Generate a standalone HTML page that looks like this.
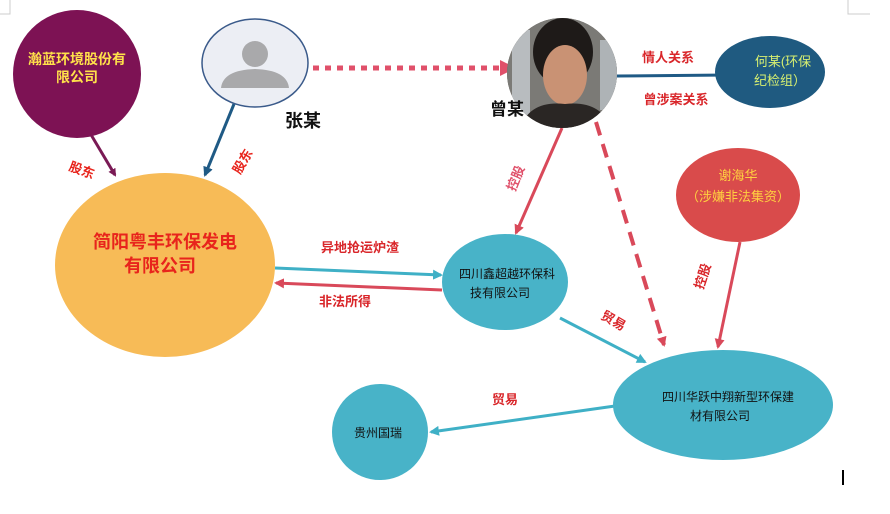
<!DOCTYPE html>
<html><head><meta charset="utf-8"><style>
body{margin:0;background:#fff}
svg{display:block;font-family:"Liberation Sans","Noto Sans CJK SC",sans-serif}
</style></head><body>
<svg width="890" height="514" viewBox="0 0 890 514">
<defs>
<marker id="mp" markerWidth="8" markerHeight="8" refX="6" refY="4" orient="auto" markerUnits="userSpaceOnUse"><path d="M0,0L8,4L0,8z" fill="#7a1a55"/></marker>
<marker id="mb" markerWidth="10" markerHeight="10" refX="8" refY="5" orient="auto" markerUnits="userSpaceOnUse"><path d="M0,0L10,5L0,10z" fill="#1f5a85"/></marker>
<marker id="mr" markerWidth="10" markerHeight="10" refX="8" refY="5" orient="auto" markerUnits="userSpaceOnUse"><path d="M0,0L10,5L0,10z" fill="#d9495a"/></marker>
<marker id="mr2" markerWidth="16" markerHeight="16" refX="12" refY="8" orient="auto" markerUnits="userSpaceOnUse"><path d="M0,0L16,8L0,16z" fill="#e0506a"/></marker>
<marker id="mt" markerWidth="10" markerHeight="10" refX="8" refY="5" orient="auto" markerUnits="userSpaceOnUse"><path d="M0,0L10,5L0,10z" fill="#3fb0c6"/></marker>
<clipPath id="cz"><circle cx="562" cy="73" r="55"/></clipPath>
</defs>
<path d="M0,14H10V0" fill="none" stroke="#ccc"/>
<path d="M848,0V14H870" fill="none" stroke="#ccc"/>
<rect x="842" y="470" width="2" height="15" fill="#000"/>

<!-- connectors -->
<line x1="90" y1="133" x2="115" y2="175" stroke="#7a1a55" stroke-width="3" marker-end="url(#mp)"/>
<line x1="234" y1="104" x2="205" y2="175" stroke="#1f5a85" stroke-width="3" marker-end="url(#mb)"/>
<line x1="313" y1="68" x2="512" y2="68" stroke="#e0506a" stroke-width="5" stroke-dasharray="6,6" marker-end="url(#mr2)"/>
<line x1="617" y1="76" x2="728" y2="75" stroke="#1f5a85" stroke-width="3" marker-end="url(#mb)"/>
<line x1="562" y1="128" x2="516" y2="233" stroke="#d9495a" stroke-width="3" marker-end="url(#mr)"/>
<line x1="596" y1="122" x2="664" y2="345" stroke="#d9495a" stroke-width="4" stroke-dasharray="14,9" marker-end="url(#mr)"/>
<line x1="740" y1="242" x2="718" y2="347" stroke="#d9495a" stroke-width="3" marker-end="url(#mr)"/>
<line x1="275" y1="268" x2="441" y2="275" stroke="#3fb0c6" stroke-width="3" marker-end="url(#mt)"/>
<line x1="442" y1="290" x2="276" y2="283" stroke="#d9495a" stroke-width="3" marker-end="url(#mr)"/>
<line x1="560" y1="318" x2="645" y2="362" stroke="#3fb0c6" stroke-width="3" marker-end="url(#mt)"/>
<line x1="615" y1="406" x2="431" y2="432" stroke="#3fb0c6" stroke-width="3" marker-end="url(#mt)"/>

<!-- nodes -->
<circle cx="77" cy="74" r="64" fill="#7d1254"/>
<text x="77" y="64" font-size="14" font-weight="bold" fill="#ffe14a" text-anchor="middle">瀚蓝环境股份有</text>
<text x="77" y="82" font-size="14" font-weight="bold" fill="#ffe14a" text-anchor="middle">限公司</text>

<ellipse cx="255" cy="63" rx="53" ry="44" fill="#eceef4" stroke="#3a5a8a" stroke-width="1.5"/>
<circle cx="255" cy="54" r="13" fill="#a9a9ab"/>
<path d="M221,88Q223,70 255,69Q287,70 289,88Z" fill="#a9a9ab"/>
<text x="285" y="127" font-size="18" font-weight="bold" fill="#111">张某</text>

<circle cx="562" cy="73" r="55" fill="#5a5550"/>
<g clip-path="url(#cz)">
<rect x="507" y="18" width="110" height="110" fill="#7b7a76"/>
<rect x="512" y="30" width="18" height="90" fill="#b8bcbf"/>
<rect x="600" y="40" width="17" height="70" fill="#aeb3b6"/>
<ellipse cx="563" cy="52" rx="30" ry="34" fill="#1e1a18"/>
<ellipse cx="565" cy="75" rx="22" ry="30" fill="#c99274"/>
<path d="M520,128Q530,100 565,104Q600,100 612,128Z" fill="#2a2624"/>
</g>
<text x="490" y="115" font-size="17" font-weight="bold" fill="#111">曾某</text>

<text x="668" y="62" font-size="13" font-weight="bold" fill="#d9262a" text-anchor="middle">情人关系</text>
<text x="676" y="104" font-size="13" font-weight="bold" fill="#d9262a" text-anchor="middle">曾涉案关系</text>

<ellipse cx="770" cy="72" rx="55" ry="36" fill="#1f5a80"/>
<text x="783" y="66" font-size="13" fill="#d8f070" text-anchor="middle">何某(环保</text>
<text x="780" y="85" font-size="13" fill="#d8f070" text-anchor="middle">纪检组）</text>

<ellipse cx="738" cy="195" rx="62" ry="47" fill="#d94b4b"/>
<text x="738" y="180" font-size="13" fill="#ffd040" text-anchor="middle">谢海华</text>
<text x="738" y="201" font-size="13" fill="#ffd040" text-anchor="middle">（涉嫌非法集资）</text>

<ellipse cx="165" cy="265" rx="110" ry="92" fill="#f7bb57"/>
<text x="165" y="248" font-size="18" font-weight="bold" fill="#e8241c" text-anchor="middle">简阳粤丰环保发电</text>
<text x="160" y="272" font-size="18" font-weight="bold" fill="#e8241c" text-anchor="middle">有限公司</text>

<ellipse cx="505" cy="282" rx="63" ry="48" fill="#48b3c8"/>
<text x="507" y="278" font-size="12" fill="#111" text-anchor="middle">四川鑫超越环保科</text>
<text x="500" y="297" font-size="12" fill="#111" text-anchor="middle">技有限公司</text>

<ellipse cx="723" cy="405" rx="110" ry="55" fill="#48b3c8"/>
<text x="728" y="401" font-size="12" fill="#111" text-anchor="middle">四川华跃中翔新型环保建</text>
<text x="720" y="420" font-size="12" fill="#111" text-anchor="middle">材有限公司</text>

<circle cx="380" cy="432" r="48" fill="#48b3c8"/>
<text x="378" y="437" font-size="12" fill="#111" text-anchor="middle">贵州国瑞</text>

<!-- edge labels -->
<text x="68" y="170" font-size="13" font-weight="bold" fill="#e8241c" transform="rotate(20 68 170)">股东</text>
<text x="240" y="175" font-size="13" font-weight="bold" fill="#e8241c" transform="rotate(-60 240 175)">股东</text>
<text x="360" y="252" font-size="13" font-weight="bold" fill="#d9262a" text-anchor="middle">异地抢运炉渣</text>
<text x="345" y="306" font-size="13" font-weight="bold" fill="#d9262a" text-anchor="middle">非法所得</text>
<text x="515" y="192" font-size="13" font-weight="bold" fill="#e0506a" transform="rotate(-68 515 192)">控股</text>
<text x="703" y="290" font-size="13" font-weight="bold" fill="#d9262a" transform="rotate(-72 703 290)">控股</text>
<text x="600" y="318" font-size="13" font-weight="bold" fill="#d9262a" transform="rotate(30 600 318)">贸易</text>
<text x="505" y="404" font-size="13" font-weight="bold" fill="#d9262a" text-anchor="middle">贸易</text>
</svg>
</body></html>
